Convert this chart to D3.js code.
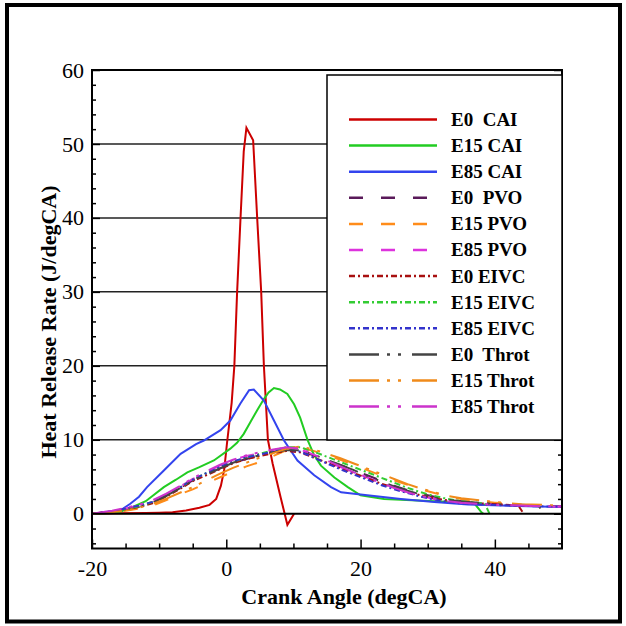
<!DOCTYPE html>
<html>
<head>
<meta charset="utf-8">
<script src="https://cdn.jsdelivr.net/npm/d3@7"></script>
<style>
  body { margin: 0; background: #fff; }
  text { font-family: "Liberation Serif", "Times New Roman", serif; }
</style>
</head>
<body>
<svg width="626" height="626"></svg>
<script>
// heat release rate curves, [crank angle, J/degCA]
var e0Cai = [[-20,0],[-16,0.05],[-12,0.1],[-10,0.15],[-8,0.2],[-6,0.45],[-4,0.8],[-2.5,1.2],[-1.5,2.0],[-0.8,3.8],[-0.3,6.0],[0.1,9.5],[0.8,15],[1.2,20],[1.6,29.7],[2.1,39.6],[2.6,49],[3.0,52.2],[4.0,50.5],[4.6,40],[5.2,30],[5.6,20],[5.9,15],[6.2,10],[6.9,6.8],[8.1,2.2],[9.1,-1.5],[10.1,0]];
var e15Cai = [[-20,0],[-17,0.1],[-15.7,0.3],[-14,0.9],[-12,1.7],[-9.3,3.6],[-7.5,4.6],[-5.8,5.6],[-4,6.3],[-1.85,7.2],[0.6,8.8],[1.6,9.6],[2.6,10.8],[3.6,12.4],[4.6,14.0],[5.6,15.5],[6.3,16.4],[7.1,17.0],[8,16.8],[9.1,16.2],[10.1,14.8],[11,13],[12.1,10],[13.1,7.9],[14.1,6.5],[16.1,4.9],[18.1,3.6],[20,2.5],[23.5,2.0],[28.5,1.8],[33.5,1.6],[37,1.35],[38,0.2],[38.3,0]];
var e85Cai = [[-20,0],[-17,0.2],[-15.7,0.5],[-14.3,1.35],[-13,2.3],[-11.8,3.6],[-9.3,5.85],[-6.8,8.1],[-4.5,9.4],[-3.35,9.9],[-0.85,11.3],[0.6,12.6],[2.1,14.9],[3.4,16.7],[4.1,16.8],[5.6,15.3],[7.1,12.6],[8.6,9.9],[10.6,7.2],[13.1,5.2],[15.6,3.6],[17.1,2.9],[21,2.5],[26,2.0],[31,1.6],[36,1.25],[41,1.1],[45,1.0],[50,0.9]];
var e0Pvo = [[-20,0],[-17,0.3],[-15,0.6],[-13,0.9],[-11,1.5],[-9,2.4],[-7,3.4],[-5,4.5],[-3,5.3],[-1,6.1],[1,6.9],[3,7.4],[5,7.9],[7,8.3],[9,8.6],[11,8.5],[13,7.9],[15,7.2],[17,6.6],[19,5.9],[21,5.2],[23,4.5],[25,3.8],[27,3.2],[29,2.7],[31,2.3],[33,1.9],[35,1.7],[38,1.45],[41,1.3],[44,1.15],[47,1.05],[50,1.0]];
var e15Pvo = [[-20,0],[-17,0.2],[-15,0.4],[-13,0.7],[-11,1.1],[-9,1.8],[-7,2.6],[-5,3.3],[-3,4.1],[-1,4.9],[1,5.7],[3,6.4],[5,7.0],[7,7.8],[9,8.6],[11,8.9],[13,8.5],[15,7.9],[17,7.3],[19,6.6],[21,5.9],[23,5.2],[25,4.5],[27,3.9],[29,3.3],[31,2.8],[33,2.3],[35,2.0],[37,1.7],[40,1.5],[42,1.4],[42.6,0]];
var e85Pvo = [[-20,0],[-17,0.4],[-15,0.7],[-13,1.1],[-11,1.7],[-9,2.6],[-7,3.6],[-5,4.7],[-3,5.6],[-1,6.5],[1,7.3],[3,7.8],[5,8.2],[7,8.6],[9,8.9],[11,8.7],[13,8.0],[15,7.1],[17,6.3],[19,5.6],[21,4.9],[23,4.2],[25,3.5],[27,2.9],[29,2.4],[31,2.0],[33,1.7],[35,1.5],[38,1.3],[41,1.2],[44,1.1],[47,1.0],[50,0.95]];
var e0Eivc = [[-20,0],[-17,0.3],[-15,0.6],[-13,0.9],[-11,1.4],[-9,2.3],[-7,3.3],[-5,4.4],[-3,5.2],[-1,6.0],[1,6.8],[3,7.4],[5,7.8],[7,8.2],[9,8.5],[11,8.3],[13,7.6],[15,6.9],[17,6.2],[19,5.5],[21,4.8],[23,4.1],[25,3.5],[27,2.9],[29,2.5],[31,2.1],[33,1.8],[35,1.6],[38,1.4],[41,1.25],[43.5,1.1],[44.3,0]];
var e15Eivc = [[-20,0],[-17,0.3],[-15,0.6],[-13,1.0],[-11,1.6],[-9,2.5],[-7,3.5],[-5,4.6],[-3,5.5],[-1,6.3],[1,7.0],[3,7.6],[5,8.1],[7,8.6],[9,9.0],[11,9.0],[13,8.4],[15,7.7],[17,7.0],[19,6.3],[21,5.6],[23,4.9],[25,4.2],[27,3.5],[29,2.9],[31,2.4],[33,2.0],[35,1.7],[37,1.5],[38.5,1.4],[39.2,0]];
var e85Eivc = [[-20,0],[-17,0.35],[-15,0.7],[-13,1.1],[-11,1.6],[-9,2.5],[-7,3.5],[-5,4.6],[-3,5.5],[-1,6.3],[1,7.1],[3,7.6],[5,8.0],[7,8.4],[9,8.7],[11,8.4],[13,7.6],[15,6.8],[17,6.0],[19,5.3],[21,4.6],[23,3.9],[25,3.3],[27,2.8],[29,2.3],[31,1.9],[33,1.6],[35,1.4],[38,1.25],[41,1.15],[44,1.05],[47,1.0],[50,0.95]];
var e0Throt = [[-20,0],[-17,0.3],[-15,0.6],[-13,0.9],[-11,1.5],[-9,2.4],[-7,3.4],[-5,4.5],[-3,5.3],[-1,6.1],[1,6.9],[3,7.5],[5,7.9],[7,8.3],[9,8.6],[11,8.6],[13,8.0],[15,7.3],[17,6.6],[19,5.9],[21,5.1],[23,4.4],[25,3.7],[27,3.1],[29,2.6],[31,2.2],[33,1.9],[35,1.65],[38,1.45],[41,1.3],[44,1.2],[46.5,1.1],[47.3,0]];
var e15Throt = [[-20,0],[-17,0.2],[-15,0.45],[-13,0.8],[-11,1.3],[-9,2.0],[-7,2.8],[-5,3.6],[-3,4.5],[-1,5.4],[1,6.2],[3,6.9],[5,7.6],[7,8.2],[9,8.8],[11,9.1],[13,8.7],[15,8.1],[17,7.5],[19,6.8],[21,6.1],[23,5.4],[25,4.7],[27,4.0],[29,3.4],[31,2.9],[33,2.4],[35,2.1],[38,1.8],[41,1.5],[44,1.3],[47,1.2],[50,1.1]];
var e85Throt = [[-20,0],[-17,0.4],[-15,0.8],[-13,1.2],[-11,1.8],[-9,2.7],[-7,3.7],[-5,4.8],[-3,5.7],[-1,6.6],[1,7.3],[3,7.9],[5,8.3],[7,8.7],[9,9.0],[11,8.8],[13,8.0],[15,7.2],[17,6.4],[19,5.6],[21,4.9],[23,4.2],[25,3.5],[27,2.9],[29,2.4],[31,2.0],[33,1.7],[35,1.5],[38,1.3],[41,1.2],[44,1.1],[47,1.0],[50,1.0]];

var seriesNames = ['E0  CAI', 'E15 CAI', 'E85 CAI', 'E0  PVO', 'E15 PVO', 'E85 PVO',
  'E0 EIVC', 'E15 EIVC', 'E85 EIVC', 'E0  Throt', 'E15 Throt', 'E85 Throt'];
var seriesData = [e0Cai, e15Cai, e85Cai, e0Pvo, e15Pvo, e85Pvo,
  e0Eivc, e15Eivc, e85Eivc, e0Throt, e15Throt, e85Throt];

var xMajorTicks = [-20, 0, 20, 40];
var yMajorTicks = [0, 10, 20, 30, 40, 50, 60];

// styles
var colors = ['#cc0000', '#22cc22', '#3344ee', '#5a1a5a', '#ff8c1a', '#dd33dd',
  '#a81010', '#33cc33', '#3333cc', '#444444', '#f08a1a', '#cc33cc'];
var dashes = [null, null, null, '14,18', '14,18', '14,18',
  '6,3,2,3', '6,3,2,3', '6,3,2,3', '30,8,3,8,3,11', '30,8,3,8,3,11', '30,8,3,8,3,11'];

var svg = d3.select('svg');
var plot = { l: 92, r: 562, t: 70, b: 548.5 };

var xScale = d3.scaleLinear().domain([-20, 50]).range([plot.l, plot.r]);
var yScale = d3.scaleLinear().domain([-4.7, 60]).range([plot.b, plot.t]);

// outer frame
svg.append('rect')
  .attr('x', 7).attr('y', 5)
  .attr('width', 613).attr('height', 616.5)
  .attr('fill', 'none').attr('stroke', '#000').attr('stroke-width', 4);

svg.append('clipPath').attr('id', 'clip')
  .append('rect')
  .attr('x', plot.l).attr('y', plot.t)
  .attr('width', plot.r - plot.l).attr('height', plot.b - plot.t);

// grid lines
svg.selectAll('.grid')
  .data(yMajorTicks.filter(d => d > 0 && d < 60))
  .enter().append('line')
  .attr('class', 'grid')
  .attr('x1', plot.l).attr('x2', plot.r)
  .attr('y1', d => yScale(d)).attr('y2', d => yScale(d))
  .attr('stroke', '#222').attr('stroke-width', 1.5);

// minor tick values
var yMinor = d3.range(-4, 60, 2).filter(d => d % 10 != 0);
var xMinor = d3.range(-15, 50, 5).filter(d => d % 20 != 0);
var plainFormat = d => String(d);

function styleAxis(g) {
  g.select('.domain').remove();
  g.selectAll('.tick line').attr('stroke', '#000').attr('stroke-width', 1.5);
  g.selectAll('.tick text')
    .attr('font-size', 22)
    .attr('fill', '#000')
    .style('font-family', '"Liberation Serif", serif');
}

svg.append('g').attr('transform', 'translate(' + plot.l + ',0)')
  .call(d3.axisLeft(yScale).tickValues(yMajorTicks).tickSize(-8).tickSizeOuter(0).tickPadding(8).tickFormat(plainFormat))
  .call(styleAxis);
svg.append('g').attr('transform', 'translate(' + plot.l + ',0)')
  .call(d3.axisLeft(yScale).tickValues(yMinor).tickSize(-4).tickSizeOuter(0).tickFormat(''))
  .call(styleAxis);
svg.append('g').attr('transform', 'translate(' + plot.r + ',0)')
  .call(d3.axisRight(yScale).tickValues(yMajorTicks).tickSize(-8).tickSizeOuter(0).tickFormat(''))
  .call(styleAxis);
svg.append('g').attr('transform', 'translate(' + plot.r + ',0)')
  .call(d3.axisRight(yScale).tickValues(yMinor).tickSize(-4).tickSizeOuter(0).tickFormat(''))
  .call(styleAxis);
svg.append('g').attr('transform', 'translate(0,' + plot.b + ')')
  .call(d3.axisBottom(xScale).tickValues(xMajorTicks).tickSize(-9).tickSizeOuter(0).tickPadding(12).tickFormat(plainFormat))
  .call(styleAxis);
svg.append('g').attr('transform', 'translate(0,' + plot.b + ')')
  .call(d3.axisBottom(xScale).tickValues(xMinor).tickSize(-5).tickSizeOuter(0).tickFormat(''))
  .call(styleAxis);

// curves
var line = d3.line().x(d => xScale(d[0])).y(d => yScale(d[1]));
var curvesG = svg.append('g').attr('clip-path', 'url(#clip)');
curvesG.selectAll('.curve')
  .data(seriesData)
  .enter().append('path')
  .attr('class', 'curve')
  .attr('d', line)
  .attr('fill', 'none')
  .attr('stroke', (d, i) => colors[i])
  .attr('stroke-width', 2)
  .attr('stroke-dasharray', (d, i) => dashes[i]);

// zero line
svg.append('line')
  .attr('x1', plot.l).attr('x2', plot.r)
  .attr('y1', yScale(0)).attr('y2', yScale(0))
  .attr('stroke', '#000').attr('stroke-width', 2);

// frame
svg.append('rect')
  .attr('x', plot.l).attr('y', plot.t)
  .attr('width', plot.r - plot.l).attr('height', plot.b - plot.t)
  .attr('fill', 'none').attr('stroke', '#000').attr('stroke-width', 2);

// legend
var legendG = svg.append('g');
legendG.append('rect')
  .attr('x', 327).attr('y', 75)
  .attr('width', 235).attr('height', 365)
  .attr('fill', '#fff').attr('stroke', '#000').attr('stroke-width', 1.5);
var items = legendG.selectAll('.item')
  .data(seriesNames)
  .enter().append('g')
  .attr('class', 'item')
  .attr('transform', (d, i) => 'translate(0,' + (119.5 + i * 26.1) + ')');
items.append('line')
  .attr('x1', 349).attr('x2', 437)
  .attr('stroke', (d, i) => colors[i])
  .attr('stroke-width', 2.5)
  .attr('stroke-dasharray', (d, i) => dashes[i]);
items.append('text')
  .attr('x', 451).attr('dy', '0.34em')
  .attr('font-size', 19).attr('font-weight', 'bold')
  .style('white-space', 'pre')
  .text(d => d);

// axis titles
svg.append('text')
  .attr('x', 344).attr('y', 604)
  .attr('text-anchor', 'middle')
  .attr('font-size', 22).attr('font-weight', 'bold')
  .text('Crank Angle (degCA)');
svg.append('text')
  .attr('transform', 'translate(56,322) rotate(-90)')
  .attr('text-anchor', 'middle')
  .attr('font-size', 22).attr('font-weight', 'bold')
  .text('Heat Release Rate (J/degCA)');
</script>
</body>
</html>
